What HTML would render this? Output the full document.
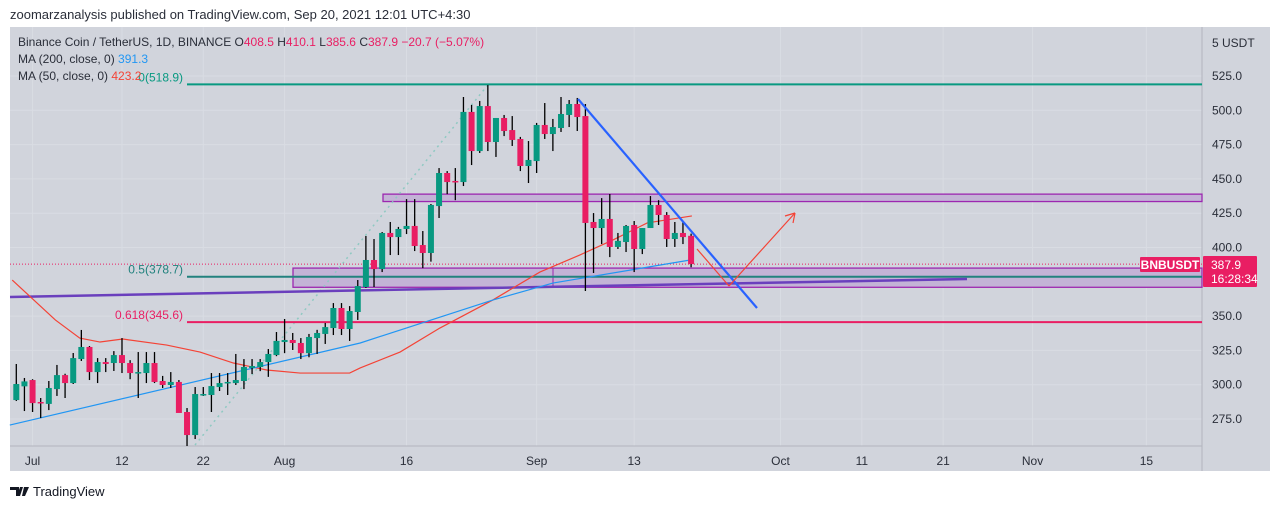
<!DOCTYPE html>
<html><head><meta charset="utf-8"><style>
body{margin:0;background:#fff;width:1280px;height:509px;overflow:hidden;font-family:"Liberation Sans",sans-serif}
svg text{font-family:"Liberation Sans",sans-serif}
</style></head><body>
<svg id="c" width="1280" height="509" xmlns="http://www.w3.org/2000/svg">
<text x="10" y="19" font-size="13" fill="#2a2e39">zoomarzanalysis published on TradingView.com, Sep 20, 2021 12:01 UTC+4:30</text>
<rect x="10" y="27" width="1260" height="444" fill="#d1d4dc"/>
<g id="grid"></g>
<line x1="10" y1="446" x2="1202" y2="446" stroke="#b2b5be"/>
<line x1="1202" y1="27" x2="1202" y2="471" stroke="#b2b5be"/>
<g id="under"></g>
<g id="candles"></g>
<g id="over"></g>
<g id="axes"></g>
<g font-size="12">
<text x="18" y="46" fill="#2a2e39">Binance Coin / TetherUS, 1D, BINANCE  O<tspan fill="#e91e63">408.5</tspan>  H<tspan fill="#e91e63">410.1</tspan>  L<tspan fill="#e91e63">385.6</tspan>  C<tspan fill="#e91e63">387.9</tspan>  <tspan fill="#e91e63">−20.7 (−5.07%)</tspan></text>
<text x="18" y="63" fill="#2a2e39">MA (200, close, 0)  <tspan fill="#2196f3">391.3</tspan></text>
<text x="18" y="80" fill="#2a2e39">MA (50, close, 0)  <tspan fill="#f44336">423.2</tspan></text>
</g>
<g>
<path d="M10 487h9v9h-3v-6h-6z M20 487h3l-3 9h-3z M24 487h5l-4 9h-3z" fill="#131722"/>
<text x="33" y="496" font-size="13" fill="#131722">TradingView</text>
</g>
</svg>
<script>
const open_=[288.8,298.8,303.4,287.4,286,296.8,307,301.2,318.7,327.5,309.2,316.5,315.8,321.6,315.8,308.5,308.5,315.8,302.7,299.8,302,280.1,263.3,292.5,292.5,298.3,301.2,301.2,302.7,312.2,312.9,316.5,321.6,331.1,332.6,330.4,323,334,337,341.3,355.9,340.6,353,371.2,390.9,384.3,410.6,407.6,413.5,415.7,401.8,396,430.2,454.3,448.5,447.7,498.8,470.3,503.1,476.9,494.4,485.6,479.1,459.4,463,489.3,482.7,487.1,496.6,504.6,495.8,418.6,414.2,420.8,400.4,404,416.4,398.9,414.2,431,423.7,406.2,410.6,408.5];
const high_=[315.1,304.9,304,290.3,302.7,314.4,308,323.1,339.9,328.2,319.4,319.4,324.5,334,317.9,323.8,323.8,323.8,306.4,309.2,303.4,283,298.3,298.3,308.5,308.5,308.5,322.4,318.7,318.7,318.7,326,338.4,347.9,337.7,334,337,340,345,359.5,359.5,357.3,376.3,408.4,406.2,411.3,418.6,415,435.3,435.3,412,431.7,457.9,455.7,457.9,509.7,503.9,506.8,518.4,494.4,496.6,495.8,480.6,477.6,490.8,505.3,493.7,509.7,507.5,509,504.6,425.1,436,439,410.6,416.4,419.3,414.2,437.5,434.5,425.8,418.6,418.6,410.1];
const low_=[288.1,280.8,280.1,275.7,281.5,291.8,290.3,300.5,317.3,303.4,301.2,309.2,310,308.5,304,290.3,301.2,301.2,297.6,297.6,286.6,255.3,260.4,291.8,280.1,295.4,292.5,299.8,296.8,307.8,309.9,305.7,320.8,323,325.3,318.7,320,322.4,329.7,336.2,336.2,331.9,347.2,370.5,371.2,382.1,394.5,394.5,409.8,397.4,385,389.7,421.5,438.9,434.5,444.8,460.1,468.9,470.3,466,481.2,474,455.7,447,454.3,479.1,470.3,484.2,487.8,484.9,368.3,381.4,402.5,393,398.9,396.7,382.1,395.2,414.2,416.4,400.4,400.4,402.5,385.6];
const close_=[300.5,302.4,286.6,286.6,297.6,307,301.2,319.4,327.5,309.2,316.5,315.1,321.6,315.8,308.5,309.2,315.8,302,299.8,302,279.4,263.3,293.2,293.2,299,301.2,302,303.4,312.9,313.6,316.5,322.4,331.9,332.6,330.4,323,334.8,337.7,342,355.9,340.6,353.7,371.9,390.9,384.3,410.6,407.6,413.5,415.7,401.1,396,431,454.3,447.7,448,498.8,470.3,503.1,476.9,494.4,484.9,478.4,459.4,463.8,489.3,482.7,487.8,497.3,504.6,495.1,417.9,414.2,420.8,400.4,404.8,415.7,398.9,414.2,431,423.7,406.2,410.6,407.6,387.9];
const ma50Idx=[-0.5,4.8,7.8,10.3,13.1,18.5,22.6,26.7,30.8,34.9,41,42.3,47.2,52.1,58.6,64.4,69.3,73.4,77.6,83.1];
const ma50Val=[376.3,347.2,334,331.1,333.3,328.9,323.8,315.8,310.7,308.5,308.5,312.2,323.8,341.3,361.7,382.1,394.5,405.5,417.9,423];
const ma200Idx=[-0.8,42.3,58.6,66,82.9];
const ma200Val=[270.6,330.4,361.7,374.1,390.9];
const priceTicks=[525,500,475,450,425,400,350,325,300,275];
const timeLabels=['Jul','12','22','Aug','16','Sep','13','Oct','11','21','Nov','15'];
const timeIdx=[2,13,23,33,48,64,76,94,104,114,125,139];

const X=i=>16.3+8.13*i;
const Y=p=>76+(525-p)*1.372;
const NS='http://www.w3.org/2000/svg';
function mk(parent,tag,attrs){const e=document.createElementNS(NS,tag);for(const k in attrs)e.setAttribute(k,attrs[k]);document.getElementById(parent).appendChild(e);return e;}

// grid + axes
priceTicks.forEach(p=>{
  const g=mk('grid','line',{x1:10,x2:1202,y1:Y(p),y2:Y(p),stroke:'#d9dce3','stroke-width':1});
  
  
  const t=mk('axes','text',{x:1212,y:Y(p)+4,'font-size':12,fill:'#2a2e39'});
  t.textContent=p.toFixed(1);
  
  
});
{const t=mk('axes','text',{x:1212,y:47,'font-size':12,fill:'#2a2e39'});t.textContent='5 USDT';

}
timeLabels.forEach((s,k)=>{
  const x=X(timeIdx[k]);
  const g=mk('grid','line',{x1:x,x2:x,y1:27,y2:446,stroke:'#d9dce3'});
  
  
  const t=mk('axes','text',{x:x,y:465,'font-size':12,fill:'#2a2e39','text-anchor':'middle'});
  t.textContent=s;
  
  
});

// annotations under candles
function line(par,name,x1,y1,x2,y2,col,w,extra){const e=mk(par,'line',Object.assign({x1,y1,x2,y2,stroke:col,'stroke-width':w},extra||{}));

return e;}
function box(name,x1,p1,p2){const e=mk('under','rect',{x:x1,y:Y(p1),width:1202-x1,height:Y(p2)-Y(p1),fill:'#c3b3d6',stroke:'#9c27b0','stroke-width':1.3});

}
box('resistance-zone',383,438.9,433.5);
box('support-zone',293,385,371);
line('under','support-zone-divider',553,Y(385),553,Y(371),'#9c27b0',1);
line('under','fib-diagonal',195,445,487,86,'#8fc9c2',1.5,{'stroke-dasharray':'2 4'});
line('under','last-price-line',10,Y(387.9),1202,Y(387.9),'#e91e63',1,{'stroke-dasharray':'1 2'});
line('under','fib-0-line',187,Y(518.9),1202,Y(518.9),'#089981',2);
line('under','fib-05-line',187,Y(378.7),1202,Y(378.7),'#22827e',2);
line('under','fib-0618-line',187,Y(345.6),1202,Y(345.6),'#e91e63',2);
line('under','long-trendline',10,297,967,279,'#6a3fbd',2.5);
function poly(par,name,idx,val,col){const pts=idx.map((d,k)=>X(d)+','+Y(val[k])).join(' ');
const e=mk(par,'polyline',{points:pts,fill:'none',stroke:col,'stroke-width':1.2});

}
poly('under','ma50-line',ma50Idx,ma50Val,'#f44336');
poly('under','ma200-line',ma200Idx,ma200Val,'#2196f3');

// candles
open_.forEach((o,i)=>{
  const c=close_[i],up=c>=o,x=X(i),col=up?'#089981':'#e91e63';
  const w=mk('candles','line',{x1:x,x2:x,y1:Y(high_[i]),y2:Y(low_[i]),stroke:'#000','stroke-width':1.3});
  
  
  const top=Y(Math.max(o,c)),h=Math.max(1.5,Math.abs(Y(o)-Y(c)));
  const b=mk('candles','rect',{x:x-3,y:top,width:6,height:h,fill:col});
  
  
});

// over annotations
line('over','down-trendline',578,99,757,308,'#2962ff',2.2);
line('over','projection-down',697,249,729,286,'#f44336',1.2);
line('over','projection-up',729,286,795,213,'#f44336',1.2);
line('over','arrow-head-a',795,213,785,216,'#f44336',1.2);
line('over','arrow-head-b',795,213,793,223,'#f44336',1.2);

// labels
function txt(name,x,y,s,col,size,anchor){const t=mk('over','text',{x,y,'font-size':size||12,fill:col,'text-anchor':anchor||'start'});t.textContent=s;

return t;}
txt('fib-0-label',183,Y(518.9)-3,'0(518.9)','#089981',12,'end');
txt('fib-05-label',183,Y(378.7)-3,'0.5(378.7)','#22827e',12,'end');
txt('fib-0618-label',183,Y(345.6)-3,'0.618(345.6)','#e91e63',12,'end');
{const r=mk('over','rect',{x:1140,y:257,width:60,height:15,fill:'#e91e63',rx:1});


const r2=mk('over','rect',{x:1203,y:256,width:54,height:31,fill:'#e91e63',rx:1});

}
txt('symbol-tag-text',1170,269,'BNBUSDT','#fff',12,'middle').setAttribute('font-weight','bold');
txt('price-tag-value',1211,269,'387.9','#fff',12);
txt('price-tag-countdown',1211,283,'16:28:34','#fff',12);
</script>
</body></html>
